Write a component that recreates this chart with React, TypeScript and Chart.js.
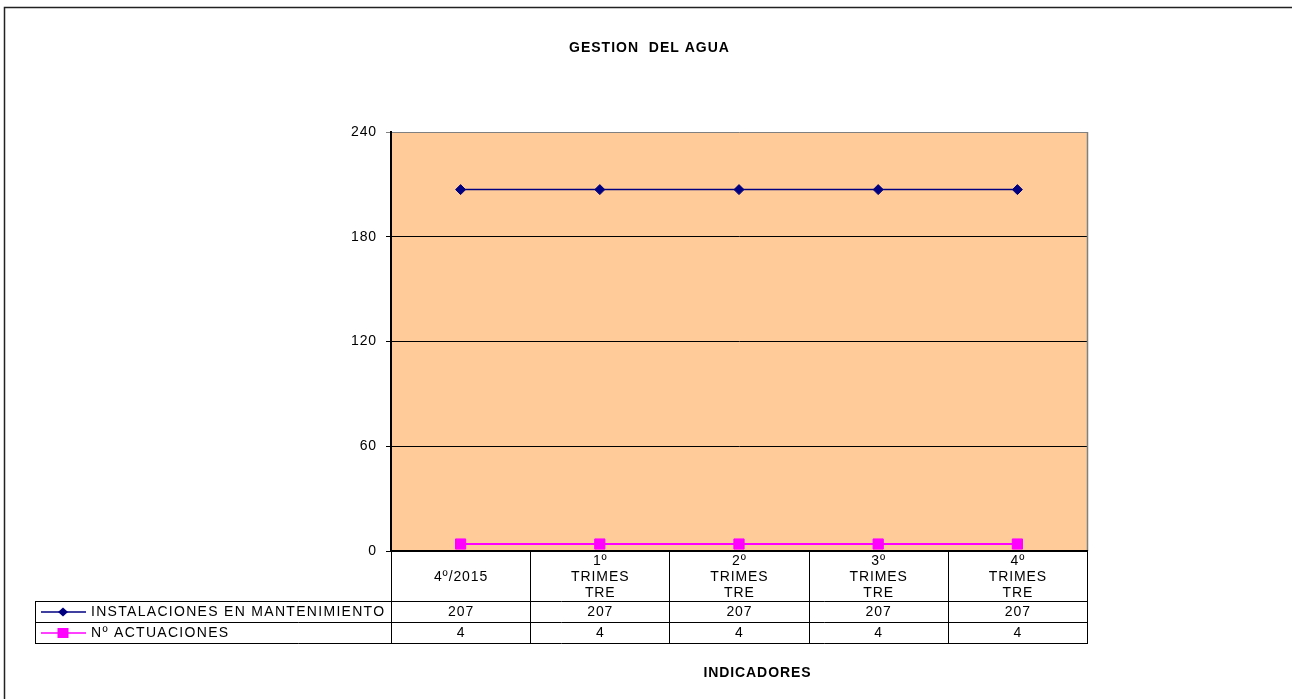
import React, { useEffect, useRef } from "react";
import { Chart, registerables } from "chart.js";

Chart.register(...registerables);

const TITLE = "GESTION  DEL AGUA";
const X_TITLE = "INDICADORES";
const categories: string[][] = [
  ["4º/2015"],
  ["1º", "TRIMES", "TRE"],
  ["2º", "TRIMES", "TRE"],
  ["3º", "TRIMES", "TRE"],
  ["4º", "TRIMES", "TRE"],
];
const seriesNames = ["INSTALACIONES EN MANTENIMIENTO", "Nº ACTUACIONES"];
const instalaciones = [207, 207, 207, 207, 207];
const actuaciones = [4, 4, 4, 4, 4];
const yMin = 0;
const yMax = 240;
const yStep = 60;

const FAMILY = '"Liberation Sans", Arial, Helvetica, sans-serif';
const NAVY = "#000080";
const MAGENTA = "#FF00FF";
const PLOT_BG = "#FFCC99";
const SP = 0.9;
const SP_LEGEND = 1.3;

function drawText(
  ctx: CanvasRenderingContext2D,
  s: string,
  x: number,
  y: number,
  font: string,
  align: CanvasTextAlign,
  spacing: number
) {
  ctx.font = font;
  (ctx as any).letterSpacing = spacing + "px";
  ctx.textAlign = align;
  ctx.textBaseline = "middle";
  ctx.fillStyle = "#000";
  ctx.fillText(s, x + (align === "center" ? spacing / 2 : 0), y);
}

const framePlugin = {
  id: "frame",
  beforeDraw(chart: any) {
    const { ctx, chartArea: a } = chart;
    ctx.save();
    ctx.fillStyle = "#fff";
    ctx.fillRect(0, 0, chart.width, chart.height);
    ctx.fillStyle = PLOT_BG;
    ctx.fillRect(a.left, a.top, a.right - a.left, a.bottom - a.top);
    ctx.restore();
    (ctx as any).letterSpacing = SP + "px";
  },
  afterDraw(chart: any) {
    const { ctx, chartArea: a } = chart;
    const xs = chart.scales.x;
    const n = categories.length;
    const colW = (a.right - a.left) / n;
    const tableLeft = 35;
    const headerBottom = a.bottom + 50;
    const rowH = 21;
    const row1Bottom = headerBottom + rowH;
    const row2Bottom = row1Bottom + rowH;

    ctx.save();
    // outer frame
    ctx.strokeStyle = "#222";
    ctx.lineWidth = 1.5;
    ctx.strokeRect(4.5, 7.5, 1400, 800);

    // plot right border (grey)
    ctx.strokeStyle = "#808080";
    ctx.lineWidth = 1.5;
    ctx.beginPath();
    ctx.moveTo(a.right + 0.5, a.top);
    ctx.lineTo(a.right + 0.5, a.bottom);
    ctx.stroke();

    // table lines
    ctx.strokeStyle = "#000";
    ctx.lineWidth = 1;
    ctx.beginPath();
    for (let i = 0; i <= n; i++) {
      const x = Math.round(a.left + i * colW) + 0.5;
      ctx.moveTo(x, a.bottom);
      ctx.lineTo(x, row2Bottom);
    }
    ctx.moveTo(tableLeft + 0.5, headerBottom);
    ctx.lineTo(tableLeft + 0.5, row2Bottom);
    for (const y of [headerBottom, row1Bottom, row2Bottom]) {
      ctx.moveTo(tableLeft, y + 0.5);
      ctx.lineTo(Math.round(a.right) + 1, y + 0.5);
    }
    ctx.stroke();

    // bottom axis line (thick)
    ctx.lineWidth = 2;
    ctx.beginPath();
    ctx.moveTo(a.left - 1, a.bottom);
    ctx.lineTo(a.right + 1, a.bottom);
    ctx.stroke();

    const font14 = `14px ${FAMILY}`;
    // category header
    categories.forEach((lines, i) => {
      const cx = xs.getPixelForValue(i);
      const cy = a.bottom + 26;
      lines.forEach((ln, j) => {
        const y = cy + (j - (lines.length - 1) / 2) * 16;
        drawText(ctx, ln, cx, y, font14, "center", SP);
      });
    });

    // data rows
    const datasets = chart.data.datasets;
    datasets.forEach((ds: any, r: number) => {
      const cy = headerBottom + rowH * r + rowH / 2 + 0.5;
      // legend key
      ctx.strokeStyle = ds.borderColor;
      ctx.fillStyle = ds.borderColor;
      ctx.lineWidth = 1.5;
      ctx.beginPath();
      ctx.moveTo(41, cy);
      ctx.lineTo(86, cy);
      ctx.stroke();
      ctx.beginPath();
      if (ds.pointStyle === "rectRot") {
        ctx.moveTo(63, cy - 4.5);
        ctx.lineTo(68, cy);
        ctx.lineTo(63, cy + 4.5);
        ctx.lineTo(58, cy);
        ctx.closePath();
      } else {
        ctx.rect(57.5, cy - 5, 11, 10);
      }
      ctx.fill();
      drawText(ctx, ds.label, 91, cy, font14, "left", SP_LEGEND);
      ds.data.forEach((v: number, i: number) => {
        drawText(ctx, String(v), xs.getPixelForValue(i), cy, font14, "center", SP);
      });
    });

    // titles
    drawText(ctx, TITLE, 649, 48, `bold 14px ${FAMILY}`, "center", 1);
    drawText(ctx, X_TITLE, 757, 673, `bold 14px ${FAMILY}`, "center", SP);
    ctx.restore();
    (ctx as any).letterSpacing = "0px";
  },
};

export default function App() {
  const ref = useRef<HTMLCanvasElement>(null);
  useEffect(() => {
    const canvas = ref.current!;
    const chart = new Chart(canvas, {
      type: "line",
      data: {
        labels: categories.map((c) => c.join(" ")),
        datasets: [
          {
            label: seriesNames[0],
            data: instalaciones,
            borderColor: NAVY,
            backgroundColor: NAVY,
            borderWidth: 1.5,
            pointStyle: "rectRot",
            pointRadius: 5,
            pointBorderWidth: 1,
            pointBackgroundColor: NAVY,
            pointBorderColor: NAVY,
            tension: 0,
          },
          {
            label: seriesNames[1],
            data: actuaciones,
            borderColor: MAGENTA,
            backgroundColor: MAGENTA,
            borderWidth: 2,
            pointStyle: "rect",
            pointRadius: 7.2,
            pointBorderWidth: 1,
            pointBackgroundColor: MAGENTA,
            pointBorderColor: MAGENTA,
            tension: 0,
          },
        ],
      },
      options: {
        responsive: false,
        animation: false,
        devicePixelRatio: 1,
        layout: { padding: { left: 0, top: 132, right: 205, bottom: 0 } },
        plugins: {
          legend: { display: false },
          title: { display: false },
          tooltip: { enabled: false },
        },
        scales: {
          x: {
            type: "category",
            offset: true,
            grid: { display: false },
            border: { display: false },
            ticks: { display: false },
            afterFit: (s: any) => {
              s.height = 148;
            },
          },
          y: {
            min: yMin,
            max: yMax,
            border: { display: true, color: "#000", width: 2 },
            grid: {
              color: (c: any) => (c.tick && c.tick.value === yMax ? "#808080" : "#000"),
              lineWidth: 1,
              tickLength: 5,
              drawTicks: true,
            },
            ticks: {
              stepSize: yStep,
              color: "#000",
              padding: 9,
              font: { family: FAMILY, size: 14 },
            },
            afterFit: (s: any) => {
              s.width = 391;
            },
          },
        },
      },
      plugins: [framePlugin],
    } as any);
    return () => chart.destroy();
  }, []);
  return (
    <div style={{ position: "absolute", left: 0, top: 0, width: 1292, height: 699, background: "#fff" }}>
      <canvas ref={ref} width={1292} height={699} style={{ display: "block", width: 1292, height: 699 }} />
    </div>
  );
}
